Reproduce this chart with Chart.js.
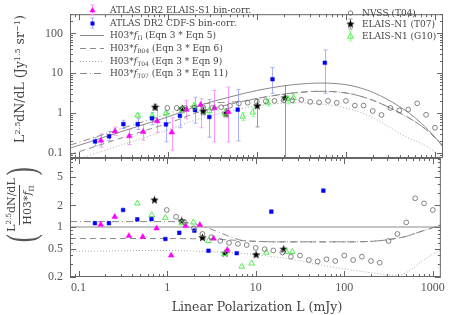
<!DOCTYPE html>
<html>
<head>
<meta charset="utf-8">
<script src="https://cdn.jsdelivr.net/npm/chart.js@4.4.1/dist/chart.umd.min.js"></script>
<style>
  body { margin: 0; background: #fff; }
  #wrap { position: relative; width: 449px; height: 315px; overflow: hidden; }
  canvas { position: absolute; left: 0; top: 0; }
  .t { position: absolute; font-family: "DejaVu Serif", serif; color: #444; white-space: nowrap; line-height: 1; }
  .leg { font-size: 9px; }
  .leg sub { font-size: 6px; vertical-align: -2px; }
  .leg i { font-style: italic; }
  sup { font-size: 0.65em; vertical-align: 0.55em; }
  .par { font-family: "Liberation Serif", serif; font-size: 40px; color: #555; transform: scaleX(0.6); }
</style>
</head>
<body>
<div id="wrap">
  <canvas id="top" width="449" height="315"></canvas>
  <canvas id="bot" width="449" height="315"></canvas>

  <div class="t leg" style="left:110px;top:6px">ATLAS DR2 ELAIS-S1 bin-corr.</div>
  <div class="t leg" style="left:110px;top:19px">ATLAS DR2 CDF-S bin-corr.</div>
  <div class="t leg" style="left:110px;top:31px">H03*<i>f</i><sub>Π</sub> (Eqn 3 * Eqn 5)</div>
  <div class="t leg" style="left:110px;top:44px">H03*<i>f</i><sub>B04</sub> (Eqn 3 * Eqn 6)</div>
  <div class="t leg" style="left:110px;top:57px">H03*<i>f</i><sub>T04</sub> (Eqn 3 * Eqn 9)</div>
  <div class="t leg" style="left:110px;top:69px">H03*<i>f</i><sub>T07</sub> (Eqn 3 * Eqn 11)</div>

  <div class="t leg" style="left:362px;top:9px">NVSS (T04)</div>
  <div class="t leg" style="left:362px;top:20px">ELAIS-N1 (T07)</div>
  <div class="t leg" style="left:362px;top:32px">ELAIS-N1 (G10)</div>

  <div class="t" style="left:20px;top:79px;font-size:12.5px;transform:translate(-50%,-50%) rotate(-90deg)">L<sup>2.5</sup>dN/dL (Jy<sup>1.5</sup> sr<sup>−1</sup>)</div>

  <div class="t" style="left:21px;top:205px;font-size:11px;transform:translate(-50%,-50%) rotate(-90deg);display:flex;align-items:center">
    <span class="par">(</span>
    <span style="display:inline-flex;flex-direction:column;align-items:center">
      <span>L<sup>2.5</sup>dN/dL</span>
      <span style="border-top:1px solid #444;margin-top:2px;padding-top:2px">H03*<i>f</i><sub style="font-size:7px">Π</sub></span>
    </span>
    <span class="par">)</span>
  </div>

  <div class="t" style="left:257px;top:307px;font-size:12.5px;transform:translate(-50%,-50%)">Linear Polarization L (mJy)</div>
</div>

<script>
// axis ticks
const xTicks = [0.1, 1, 10, 100, 1000];
const yTopTicks = [0.1, 1, 10, 100];
const yBotTicks = [0.2, 0.5, 1, 2, 5];

// ATLAS DR2 ELAIS-S1 bin-corr. (magenta)
const es1L  = [0.178, 0.256, 0.37, 0.53, 0.76, 1.11, 1.62, 2.34, 3.34, 4.78];
const es1Y  = [0.205, 0.35, 0.265, 0.34, 0.63, 0.33, 1.22, 1.62, 1.35, 1.07];
const es1Lo = [0.14, 0.277, 0.163, 0.21, 0.33, 0.118, 0.73, 0.43, 0.19, 0.19];
const es1Hi = [0.30, 0.445, 0.39, 0.51, 1.47, 0.76, 2.1, 2.3, 3.7, 4.5];
const es1R  = [1.08, 1.39, 0.75, 0.73, 0.96, 0.40, 1.04, 1.07, 0.69, 0.48];

// ATLAS DR2 CDF-S bin-corr. (blue)
const cdfL  = [0.153, 0.22, 0.318, 0.46, 0.666, 0.955, 1.37, 2.03, 2.93, 6.1, 15, 58];
const cdfY  = [0.194, 0.262, 0.53, 0.53, 0.74, 0.52, 0.86, 1.19, 0.80, 1.22, 7.1, 18.4];
const cdfLo = [0.149, 0.205, 0.41, 0.39, 0.51, 0.19, 0.43, 0.56, 0.25, 0.2, 3.15, 3.15];
const cdfHi = [0.24, 0.35, 0.66, 0.73, 1.03, 1.13, 1.35, 2.5, 2.2, 3.9, 13.9, 38.6];
const cdfR  = [1.13, 1.13, 1.73, 1.28, 1.29, 0.68, 0.83, 0.89, 0.466, 0.43, 1.64, 3.22];

// ELAIS-N1 (T07), black stars
const t07L  = [0.72, 1.46, 2.5, 4.5, 10.1, 20.7];
const t07Y  = [1.42, 1.29, 1.13, 1.0, 1.53, 2.42];
const t07Lo = [1.19, 1.06, 0.9, 0.8, 0.45, 0.001];
const t07Hi = [1.67, 1.5, 1.4, 1.3, 2.26, 4.9];
const t07R  = [2.39, 1.22, 0.71, 0.43, 0.41, 0.49];

// ELAIS-N1 (G10), green open triangles
const g10L  = [0.46, 0.67, 0.955, 1.46, 1.98, 2.93, 4.4, 6.95, 9.0, 13.2, 22.2, 25.8];
const g10Y  = [0.885, 0.84, 1.0, 1.2, 1.53, 1.13, 1.0, 0.82, 1.04, 1.86, 2.3, 2.42];
const g10Lo = [0.78, 0.77, 0.85, 1.0, 1.15, 0.9, 0.8, 0.65, 0.82, 1.5, 1.7, 1.8];
const g10Hi = [0.97, 0.93, 1.07, 1.4, 1.8, 1.35, 1.25, 1.03, 1.37, 2.3, 2.7, 3.0];
const g10R  = [2.14, 1.47, 1.35, 1.13, 1.16, 0.64, 0.42, 0.28, 0.31, 0.44, 0.45, 0.45];

// NVSS (T04), open circles
const nvssL = [0.99, 1.26, 1.58, 2.0, 2.5, 3.16, 3.98, 5.0, 6.3, 7.9, 10, 12.6, 15.8, 20, 25, 31.6,
               39.8, 50, 63, 79, 100, 126, 158, 200, 251, 316, 398, 501, 631, 794, 1000];
const nvssY = [1.35, 1.35, 1.33, 1.38, 1.38, 1.35, 1.41, 1.53, 1.76, 1.82, 1.92, 1.99, 2.03, 2.09, 2.09, 2.16,
               1.92, 1.86, 2.03, 1.82, 2.03, 1.55, 1.55, 1.13, 0.9, 1.35, 1.17, 1.23, 1.76, 0.91, 0.43];
const nvssR = [1.73, 1.39, 1.16, 0.96, 0.80, 0.72, 0.64, 0.60, 0.58, 0.56, 0.51, 0.49, 0.47, 0.44, 0.385, 0.40,
               0.345, 0.33, 0.354, 0.335, 0.40, 0.345, 0.385, 0.335, 0.317, 0.637, 0.80, 1.16, 2.52, 2.14, 1.73];

// H03 model curves
const modL   = [0.08, 0.15, 0.3, 0.6, 1, 2, 3, 5, 10, 20, 30, 50, 80, 120, 200, 300, 400, 500, 700, 1000, 1230];
const fPi    = [0.132, 0.207, 0.342, 0.56, 0.8, 1.42, 1.88, 2.55, 3.7, 4.85, 5.35, 5.7, 5.5, 4.8, 3.35, 2.15, 1.45, 1.05, 0.56, 0.25, 0.14];
const fB04   = [0.091, 0.143, 0.236, 0.386, 0.55, 0.98, 1.28, 1.68, 2.33, 3.0, 3.32, 3.53, 3.41, 2.98, 2.11, 1.42, 1.02, 0.78, 0.48, 0.245, 0.15];
const fT04   = [0.061, 0.095, 0.157, 0.26, 0.376, 0.66, 0.85, 1.12, 1.52, 1.78, 1.82, 1.71, 1.49, 1.2, 0.77, 0.46, 0.31, 0.24, 0.174, 0.105, 0.067];
const rPi    = [1, 1, 1, 1, 1, 1, 1, 1, 1, 1, 1, 1, 1, 1, 1, 1, 1, 1, 1, 1, 1];
const rB04   = [0.69, 0.69, 0.69, 0.69, 0.69, 0.685, 0.68, 0.66, 0.63, 0.62, 0.62, 0.62, 0.62, 0.62, 0.63, 0.66, 0.70, 0.74, 0.85, 0.98, 1.07];
const rT04   = [0.46, 0.46, 0.465, 0.47, 0.47, 0.46, 0.45, 0.44, 0.41, 0.37, 0.34, 0.30, 0.27, 0.25, 0.23, 0.215, 0.213, 0.23, 0.31, 0.42, 0.48];
const t07ModL = [0.08, 0.15, 0.3, 0.6, 1, 1.4, 2, 3, 4, 5, 7, 10, 20, 30, 50, 80, 120, 200, 300, 400, 500, 700, 1000, 1230];
const fT07   = [0.157, 0.246, 0.407, 0.666, 0.95, 1.25, 1.56, 1.79, 1.85, 1.89, 1.98, 2.33, 3.0, 3.32, 3.53, 3.41, 2.98, 2.11, 1.42, 1.02, 0.78, 0.48, 0.245, 0.15];
const rT07   = [1.19, 1.19, 1.19, 1.19, 1.19, 1.18, 1.1, 0.95, 0.83, 0.74, 0.65, 0.63, 0.62, 0.62, 0.62, 0.62, 0.62, 0.63, 0.66, 0.70, 0.74, 0.85, 0.98, 1.07];

const pts = (xs, ys) => xs.map((x, i) => ({ x, y: ys[i] }));

const MAG = '#ff00ff', MAG_E = '#ff99ff';
const BLU = '#0000ff', BLU_E = '#aab0ff';
const GRN = '#55ee55', GRN_E = '#99ff99';
const BLK = '#000000', BLK_E = '#999999';
const NV = '#666666';
const LINE = '#8a8a8a';

function starImg(color) {
  const c = document.createElement('canvas');
  c.width = 9; c.height = 9;
  const g = c.getContext('2d');
  g.fillStyle = color;
  g.beginPath();
  for (let i = 0; i < 10; i++) {
    const r = i % 2 ? 1.9 : 4.4;
    const a = -Math.PI / 2 + i * Math.PI / 5;
    g.lineTo(4.5 + r * Math.cos(a), 4.7 + r * Math.sin(a));
  }
  g.closePath();
  g.fill();
  return c;
}
const star = starImg(BLK);

function markerSets(top) {
  const pick = (y, r) => top ? y : r;
  return [
    { data: pts(nvssL, pick(nvssY, nvssR)), pointStyle: 'circle', pointRadius: 2.4, borderColor: NV, backgroundColor: 'rgba(0,0,0,0)', pointBorderWidth: 0.8 },
    { data: pts(es1L, pick(es1Y, es1R)), pointStyle: 'triangle', pointRadius: 3.3, borderColor: MAG, backgroundColor: MAG, pointBorderWidth: 0.5,
      lo: top ? es1Lo : null, hi: es1Hi, errColor: MAG_E },
    { data: pts(cdfL, pick(cdfY, cdfR)), pointStyle: 'rect', pointRadius: 2.6, borderColor: BLU, backgroundColor: BLU, pointBorderWidth: 0.5,
      lo: top ? cdfLo : null, hi: cdfHi, errColor: BLU_E },
    { data: pts(g10L, pick(g10Y, g10R)), pointStyle: 'triangle', pointRadius: 3.3, borderColor: GRN, backgroundColor: 'rgba(0,0,0,0)', pointBorderWidth: 1,
      lo: top ? g10Lo : null, hi: g10Hi, errColor: GRN_E },
    { data: pts(t07L, pick(t07Y, t07R)), pointStyle: star, pointRadius: 4, borderColor: BLK, backgroundColor: BLK,
      lo: top ? t07Lo : null, hi: t07Hi, errColor: BLK_E },
  ];
}

function lineSets(top) {
  const base = { showLine: true, pointRadius: 0, borderColor: LINE, borderWidth: 1, cubicInterpolationMode: 'monotone', fill: false };
  return [
    { ...base, data: pts(modL, top ? fPi : rPi) },
    { ...base, data: pts(modL, top ? fB04 : rB04), borderDash: [6, 4] },
    { ...base, data: pts(modL, top ? fT04 : rT04), borderDash: [1, 2], borderColor: '#aaaaaa' },
    { ...base, data: pts(t07ModL, top ? fT07 : rT07), borderDash: [7, 3, 1, 3] },
  ];
}

const errorBars = {
  id: 'errorBars',
  beforeDatasetsDraw(chart) {
    const { ctx, chartArea: a, scales: { x, y } } = chart;
    ctx.save();
    ctx.beginPath();
    ctx.rect(a.left, a.top, a.right - a.left, a.bottom - a.top);
    ctx.clip();
    ctx.lineWidth = 1;
    chart.data.datasets.forEach(ds => {
      if (!ds.lo) return;
      ctx.strokeStyle = ds.errColor;
      ds.data.forEach((p, i) => {
        const px = Math.round(x.getPixelForValue(p.x)) + 0.5;
        const y1 = y.getPixelForValue(ds.lo[i]);
        const y2 = y.getPixelForValue(ds.hi[i]);
        ctx.beginPath();
        ctx.moveTo(px, y1); ctx.lineTo(px, y2);
        ctx.moveTo(px - 2, y1); ctx.lineTo(px + 2, y1);
        ctx.moveTo(px - 2, y2); ctx.lineTo(px + 2, y2);
        ctx.stroke();
      });
    });
    ctx.restore();
  }
};

const frame = {
  id: 'frame',
  afterDraw(chart, args, opts) {
    const { ctx, chartArea: a, scales: { x, y } } = chart;
    ctx.save();
    ctx.strokeStyle = '#666';
    ctx.lineWidth = 1;
    ctx.strokeRect(a.left + 0.5, a.top + 0.5, a.right - a.left - 1, a.bottom - a.top - 1);
    const each = (scale, majors, fn) => {
      const e0 = Math.floor(Math.log10(scale.min)), e1 = Math.ceil(Math.log10(scale.max));
      for (let e = e0; e <= e1; e++) {
        for (let k = 1; k < 10; k++) {
          const v = k * Math.pow(10, e);
          if (v < scale.min || v > scale.max) continue;
          const major = k === 1 || majors.some(m => Math.abs(m - v) < 1e-9 * v);
          fn(Math.round(scale.getPixelForValue(v)) + 0.5, major ? 6 : 3);
        }
      }
    };
    ctx.beginPath();
    each(x, xTicks, (px, len) => {
      ctx.moveTo(px, a.bottom); ctx.lineTo(px, a.bottom - len);
      ctx.moveTo(px, a.top); ctx.lineTo(px, a.top + len);
    });
    each(y, opts.yMajors, (py, len) => {
      ctx.moveTo(a.left, py); ctx.lineTo(a.left + len, py);
      ctx.moveTo(a.right, py); ctx.lineTo(a.right - len, py);
    });
    ctx.stroke();
    ctx.restore();
  }
};

// legend symbols (text is in the page)
const legendMarks = {
  id: 'legendMarks',
  afterDraw(chart) {
    const ctx = chart.ctx;
    ctx.save();
    const tri = (cx, cy, r, fill, stroke) => {
      ctx.beginPath();
      ctx.moveTo(cx, cy - r); ctx.lineTo(cx + r * 0.87, cy + r * 0.5); ctx.lineTo(cx - r * 0.87, cy + r * 0.5);
      ctx.closePath();
      if (fill) { ctx.fillStyle = fill; ctx.fill(); }
      if (stroke) { ctx.strokeStyle = stroke; ctx.lineWidth = 1; ctx.stroke(); }
    };
    const bar = (cx, cy, h, color) => {
      ctx.strokeStyle = color; ctx.lineWidth = 1;
      ctx.beginPath();
      ctx.moveTo(cx + 0.5, cy - h); ctx.lineTo(cx + 0.5, cy + h);
      ctx.moveTo(cx - 1.5, cy - h); ctx.lineTo(cx + 2.5, cy - h);
      ctx.moveTo(cx - 1.5, cy + h); ctx.lineTo(cx + 2.5, cy + h);
      ctx.stroke();
    };
    bar(92, 10, 5, MAG_E); tri(92.5, 10.5, 3.5, MAG);
    bar(92, 23, 5, BLU_E); ctx.fillStyle = BLU; ctx.fillRect(90.5, 21.5, 4, 4);
    const seg = (y, dash, color) => {
      ctx.strokeStyle = color; ctx.setLineDash(dash); ctx.lineWidth = 1;
      ctx.beginPath(); ctx.moveTo(80, y + 0.5); ctx.lineTo(104, y + 0.5); ctx.stroke();
    };
    seg(35, [], LINE); seg(48, [6, 4], LINE); seg(61, [1, 2], '#aaaaaa'); seg(73, [7, 3, 1, 3], LINE);
    ctx.setLineDash([]);
    ctx.strokeStyle = NV; ctx.lineWidth = 0.8;
    ctx.beginPath(); ctx.arc(350.5, 13, 2.2, 0, Math.PI * 2); ctx.stroke();
    bar(350, 24, 5, BLK_E); ctx.drawImage(star, 346, 19.5);
    bar(350, 36, 5, GRN_E); tri(350.5, 36.5, 3.5, null, GRN);
    ctx.restore();
  }
};

const tickFont = { family: 'Liberation Serif', size: 12 };

new Chart(document.getElementById('top'), {
  type: 'scatter',
  data: { datasets: [...markerSets(true), ...lineSets(true)] },
  options: {
    responsive: false,
    animation: false,
    events: [],
    layout: { padding: { left: 0, top: 1, right: 6, bottom: 157 } },
    plugins: { legend: { display: false }, tooltip: { enabled: false }, frame: { yMajors: yTopTicks } },
    scales: {
      x: { type: 'logarithmic', min: 0.08, max: 1230, display: false },
      y: {
        type: 'logarithmic', min: 0.0747, max: 305,
        afterFit: s => { s.width = 70; },
        afterBuildTicks: s => { s.ticks = yTopTicks.map(v => ({ value: v })); },
        grid: { display: false, drawTicks: false }, border: { display: false },
        ticks: { padding: 7, color: '#555', font: tickFont, autoSkip: false, callback: v => String(v) }
      }
    }
  },
  plugins: [errorBars, frame, legendMarks]
});

new Chart(document.getElementById('bot'), {
  type: 'scatter',
  data: { datasets: [...markerSets(false), ...lineSets(false)] },
  options: {
    responsive: false,
    animation: false,
    events: [],
    layout: { padding: { left: 0, top: 158, right: 6, bottom: 0 } },
    plugins: { legend: { display: false }, tooltip: { enabled: false }, frame: { yMajors: yBotTicks } },
    scales: {
      x: {
        type: 'logarithmic', min: 0.08, max: 1230,
        afterFit: s => { s.height = 38; },
        afterBuildTicks: s => { s.ticks = xTicks.map(v => ({ value: v })); },
        grid: { display: false, drawTicks: false }, border: { display: false },
        ticks: { padding: 4, color: '#555', font: tickFont, autoSkip: false, maxRotation: 0, callback: v => String(v) }
      },
      y: {
        type: 'logarithmic', min: 0.2, max: 9.22,
        afterFit: s => { s.width = 70; },
        afterBuildTicks: s => { s.ticks = yBotTicks.map(v => ({ value: v })); },
        grid: { display: false, drawTicks: false }, border: { display: false },
        ticks: { padding: 7, color: '#555', font: tickFont, autoSkip: false, callback: v => String(v) }
      }
    }
  },
  plugins: [frame]
});
</script>
</body>
</html>
